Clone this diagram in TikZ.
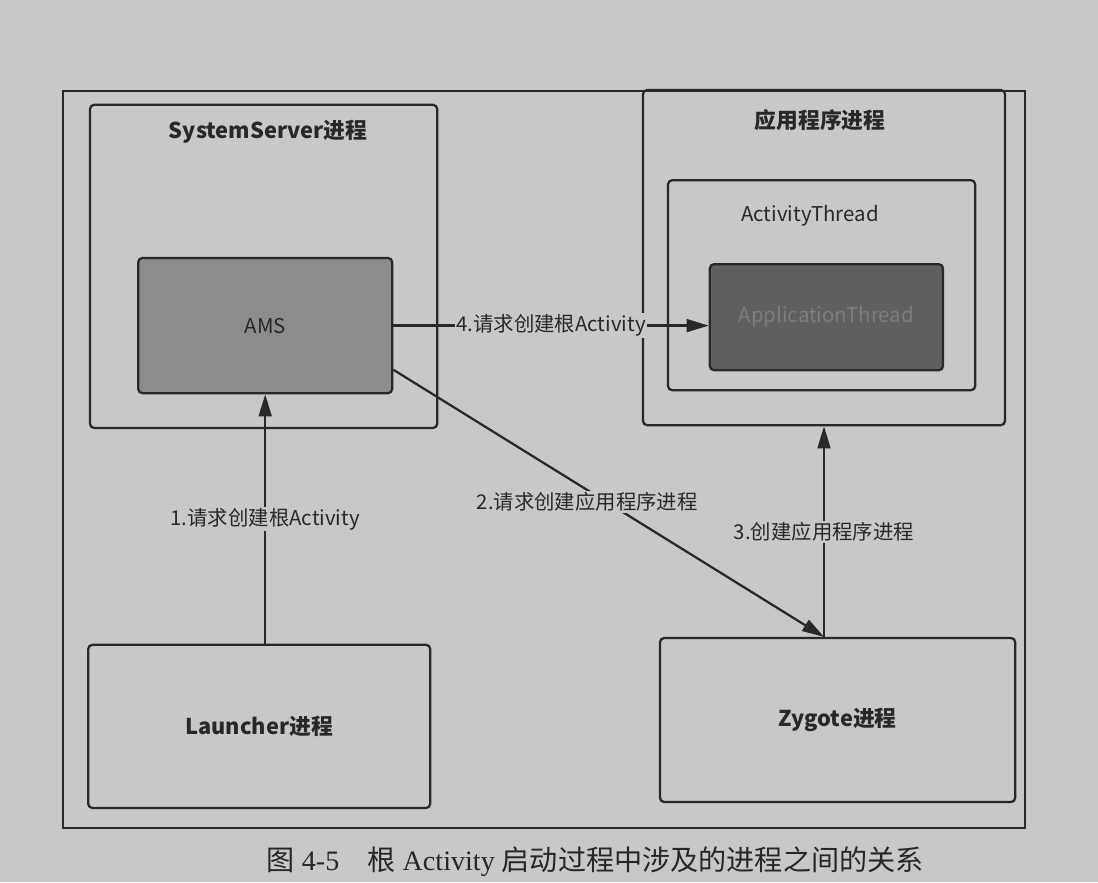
\documentclass[tikz,border=0pt]{standalone}
\usepackage{fontspec}
\setmainfont{Liberation Serif}
\newfontfamily\cjk{Noto Sans CJK SC}
\usepackage{xcolor}
\usetikzlibrary{arrows.meta}
\definecolor{pagegray}{RGB}{200,200,198}
\definecolor{amsgray}{RGB}{140,140,140}
\definecolor{aptgray}{RGB}{95,95,95}
\definecolor{inkgray}{RGB}{40,40,40}
\definecolor{apttext}{RGB}{125,125,125}
\tikzset{
>={Triangle[length=0.55cm,width=0.32cm]},
framebox/.style={rectangle, draw=inkgray, line width=1.2pt, inner sep=0pt},
procbox/.style={rectangle, rounded corners=3pt, draw=inkgray, line width=1.6pt, inner sep=0pt, text=inkgray},
darkbox/.style={procbox, fill=amsgray},
titletext/.style={text=inkgray, font=\cjk\bfseries\fontsize{15.5pt}{18pt}\selectfont},
plaintext/.style={text=inkgray, font=\cjk\fontsize{14.5pt}{17pt}\selectfont},
steplabel/.style={fill=pagegray, inner sep=1pt, text=inkgray, font=\cjk\fontsize{14.5pt}{17pt}\selectfont},
}
\begin{document}
\begin{tikzpicture}[y=-1cm]
    \fill[pagegray] (0,0) rectangle (27.45,22.05);
    \useasboundingbox (0,0) rectangle (27.45,22.05);
    \node[framebox] at (13.6,11.49) (frame) [minimum width=24.05cm, minimum height=18.43cm] {};
    % left column
    \node[procbox] at (6.59,6.66) (sysbox) [minimum width=8.68cm, minimum height=8.08cm] {};
    \node[titletext] at (6.7,3.3) (systitle) {SystemServer进程};
    \node[darkbox, plaintext] at (6.63,8.14) (ams) [minimum width=6.35cm, minimum height=3.38cm] {AMS};
    \node[procbox, titletext] at (6.48,18.16) (launcher) [minimum width=8.55cm, minimum height=4.08cm] {Launcher进程};
    % right column
    \node[procbox] at (20.6,6.44) (appbox) [minimum width=9.05cm, minimum height=8.38cm] {};
    \node[titletext] at (20.5,3.0) (apptitle) {应用程序进程};
    \node[procbox] at (20.54,7.13) (atbox) [minimum width=7.68cm, minimum height=5.25cm] {};
    \node[plaintext] at (20.25,5.4) (attitle) {ActivityThread};
    \node[procbox, fill=aptgray, plaintext, text=apttext] at (20.66,7.93) (apt) [minimum width=5.83cm, minimum height=2.65cm] {ApplicationThread};
    \node[procbox, titletext] at (20.94,18.0) (zygote) [minimum width=8.88cm, minimum height=4.1cm] {Zygote进程};
     \draw[line width=1.6pt, inkgray, ->] (ams.south |- launcher.north) to node[steplabel]{1.请求创建根Activity} (ams.south);
     \draw[line width=1.6pt, inkgray, ->] (ams.east) to node[steplabel]{4.请求创建根Activity} (ams.east -| apt.west);
     \draw[line width=1.6pt, inkgray, ->] (ams.-19.3) to node[steplabel, pos=0.45, yshift=-0.3cm]{2.请求创建应用程序进程} (zygote.north -| appbox.south);
     \draw[line width=1.6pt, inkgray, ->] (zygote.north -| appbox.south) to node[steplabel]{3.创建应用程序进程} (appbox.south);
    \node[text=black!85, font=\fontsize{20pt}{24pt}\selectfont] at (14.88,21.55) (caption) {{\cjk 图} 4-5\quad{\cjk 根} Activity {\cjk 启动过程中涉及的进程之间的关系}};
\end{tikzpicture}
\end{document}
